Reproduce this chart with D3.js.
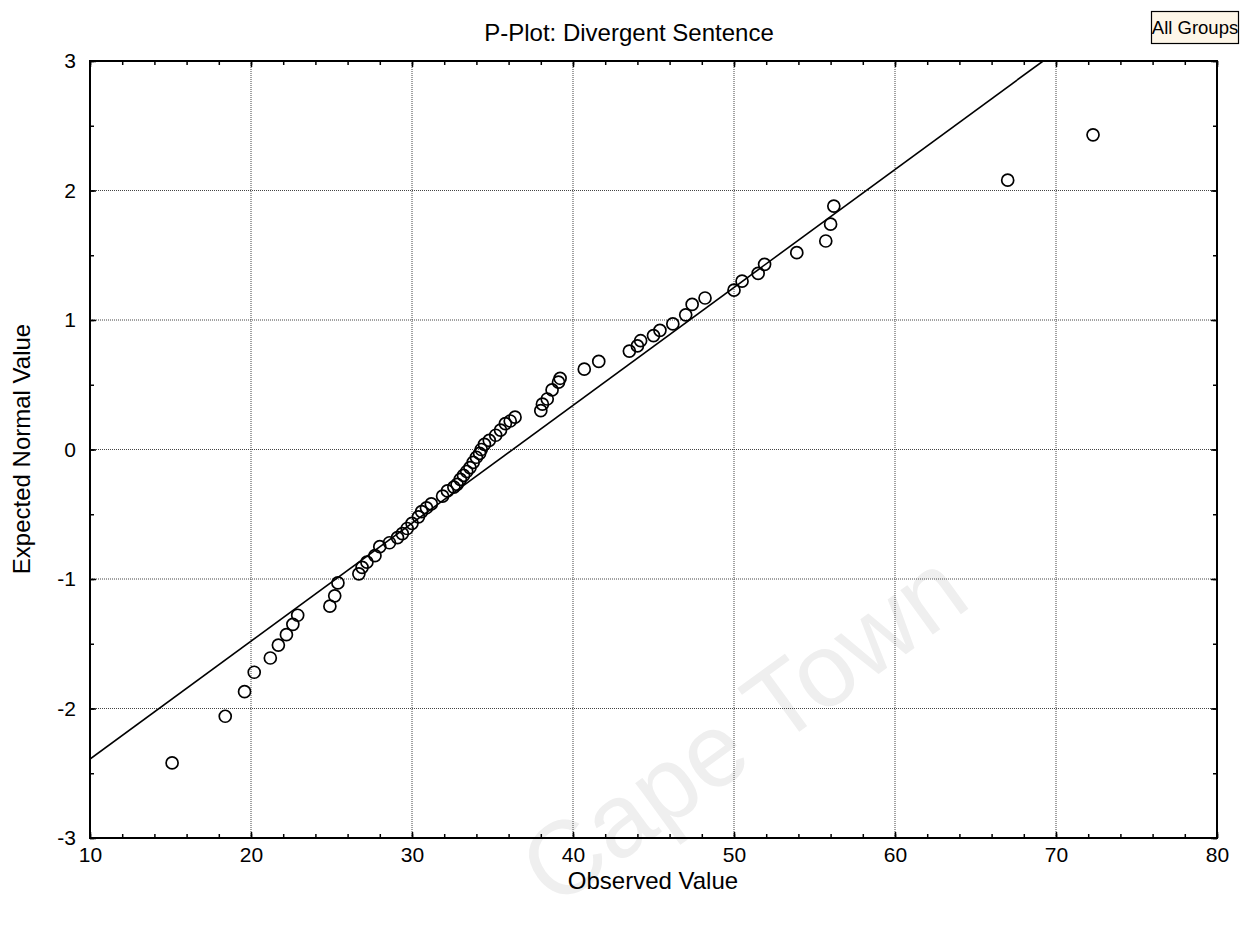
<!DOCTYPE html>
<html><head><meta charset="utf-8">
<script src="https://cdn.jsdelivr.net/npm/d3@7"></script>
<style>
html,body{margin:0;padding:0;background:#fff;}
text{font-family:"Liberation Sans",Arial,sans-serif;}
</style></head>
<body><svg id="c" width="1250" height="929"></svg>
<script>
const titleText = "P-Plot: Divergent Sentence";
const groupLabel = "All Groups";
const xLabel = "Observed Value";
const yLabel = "Expected Normal Value";
const xTicks = [10,20,30,40,50,60,70,80];
const yTicks = [-3,-2,-1,0,1,2,3];
const observed = [15.1,18.4,19.6,20.2,21.2,21.7,22.2,22.6,22.9,24.9,25.2,25.4,26.7,26.9,27.2,27.7,28.0,28.6,29.1,29.4,29.7,30.0,30.4,30.6,30.9,31.2,31.9,32.2,32.6,32.8,33.0,33.2,33.4,33.6,33.8,34.0,34.2,34.3,34.5,34.8,35.2,35.5,35.8,36.1,36.4,38.0,38.1,38.4,38.7,39.1,39.2,40.7,41.6,43.5,44.0,44.2,45.0,45.4,46.2,47.0,47.4,48.2,50.0,50.5,51.5,51.9,53.9,55.7,56.0,56.2,67.0,72.3];
const expected = [-2.42,-2.06,-1.87,-1.72,-1.61,-1.51,-1.43,-1.35,-1.28,-1.21,-1.13,-1.03,-0.96,-0.91,-0.87,-0.82,-0.75,-0.72,-0.68,-0.65,-0.61,-0.57,-0.52,-0.48,-0.45,-0.42,-0.36,-0.32,-0.29,-0.27,-0.23,-0.20,-0.17,-0.14,-0.10,-0.06,-0.03,0.00,0.04,0.07,0.11,0.15,0.20,0.22,0.25,0.30,0.35,0.39,0.46,0.52,0.55,0.62,0.68,0.76,0.80,0.84,0.88,0.92,0.97,1.04,1.12,1.17,1.23,1.30,1.36,1.43,1.52,1.61,1.74,1.88,2.08,2.43];
const fitX = [10, 69.2];
const fitY = [-2.39, 3];
const watermark = "Cape Town";

const svg = d3.select("#c");
const L=90, R=1217, T=61, B=838;
const x = d3.scaleLinear().domain([10,80]).range([L,R]);
const y = d3.scaleLinear().domain([-3,3]).range([B,T]);
const fmt = d => String(d);

// watermark
svg.append("text").attr("transform","translate(748,735) rotate(-36)")
  .attr("text-anchor","middle").attr("dominant-baseline","middle")
  .attr("font-size",104).attr("fill","#efefef").text(watermark);

// grid
const g = svg.append("g");
g.selectAll(".vg").data(xTicks.slice(1,-1)).join("line")
  .attr("x1",d=>x(d)).attr("x2",d=>x(d)).attr("y1",T).attr("y2",B)
  .attr("stroke","#444").attr("stroke-width",1).attr("stroke-dasharray","1,1");
g.selectAll(".hg").data(yTicks.slice(1,-1)).join("line")
  .attr("y1",d=>y(d)).attr("y2",d=>y(d)).attr("x1",L).attr("x2",R)
  .attr("stroke","#444").attr("stroke-width",1).attr("stroke-dasharray","1,1");

svg.append("clipPath").attr("id","pc").append("rect").attr("x",L).attr("y",T).attr("width",R-L).attr("height",B-T);

// fit line
svg.append("line").attr("clip-path","url(#pc)")
  .attr("x1",x(fitX[0])).attr("y1",y(fitY[0])).attr("x2",x(fitX[1])).attr("y2",y(fitY[1]))
  .attr("stroke","#000").attr("stroke-width",1.6);

// points
svg.append("g").selectAll("circle").data(observed.map((v,i)=>[v,expected[i]])).join("circle")
  .attr("cx",d=>x(d[0])).attr("cy",d=>y(d[1])).attr("r",6)
  .attr("fill","none").attr("stroke","#000").attr("stroke-width",1.7);

// axes with inward ticks
const xMinor = d3.range(10,80.001,2);
const yMinor = d3.range(-3,3.001,0.5);
function addAxis(axisGen, tr){
  const a = svg.append("g").attr("transform",tr).call(axisGen);
  a.select(".domain").remove();
  return a;
}
const bx = addAxis(d3.axisBottom(x).tickValues(xTicks).tickSizeInner(-6).tickSizeOuter(0).tickPadding(9).tickFormat(fmt), `translate(0,${B})`);
bx.selectAll("text").attr("font-size",21).attr("fill","#000");
addAxis(d3.axisBottom(x).tickValues(xMinor).tickSizeInner(-4).tickSizeOuter(0).tickFormat(""), `translate(0,${B})`);
addAxis(d3.axisTop(x).tickValues(xTicks).tickSizeInner(-6).tickSizeOuter(0).tickFormat(""), `translate(0,${T})`);
addAxis(d3.axisTop(x).tickValues(xMinor).tickSizeInner(-4).tickSizeOuter(0).tickFormat(""), `translate(0,${T})`);
const ly = addAxis(d3.axisLeft(y).tickValues(yTicks).tickSizeInner(-6).tickSizeOuter(0).tickPadding(14).tickFormat(fmt), `translate(${L},0)`);
ly.selectAll("text").attr("font-size",21).attr("fill","#000");
addAxis(d3.axisLeft(y).tickValues(yMinor).tickSizeInner(-4).tickSizeOuter(0).tickFormat(""), `translate(${L},0)`);
addAxis(d3.axisRight(y).tickValues(yTicks).tickSizeInner(-6).tickSizeOuter(0).tickFormat(""), `translate(${R},0)`);
addAxis(d3.axisRight(y).tickValues(yMinor).tickSizeInner(-4).tickSizeOuter(0).tickFormat(""), `translate(${R},0)`);
svg.selectAll(".tick line").attr("stroke","#000").attr("stroke-width",1.5);

// frame
svg.append("rect").attr("x",L).attr("y",T).attr("width",R-L).attr("height",B-T)
  .attr("fill","none").attr("stroke","#000").attr("stroke-width",2);

// title & labels
svg.append("text").attr("x",629).attr("y",41).attr("text-anchor","middle").attr("font-size",24).text(titleText);
svg.append("text").attr("x",653).attr("y",889).attr("text-anchor","middle").attr("font-size",24).text(xLabel);
svg.append("text").attr("transform","translate(30,449) rotate(-90)").attr("text-anchor","middle").attr("font-size",24).text(yLabel);

// group box
svg.append("rect").attr("x",1151.5).attr("y",11.5).attr("width",87).attr("height",32)
  .attr("fill","#fdf6e8").attr("stroke","#000").attr("stroke-width",1.2);
svg.append("text").attr("x",1195).attr("y",34).attr("text-anchor","middle").attr("font-size",18.5).text(groupLabel);
</script></body></html>
